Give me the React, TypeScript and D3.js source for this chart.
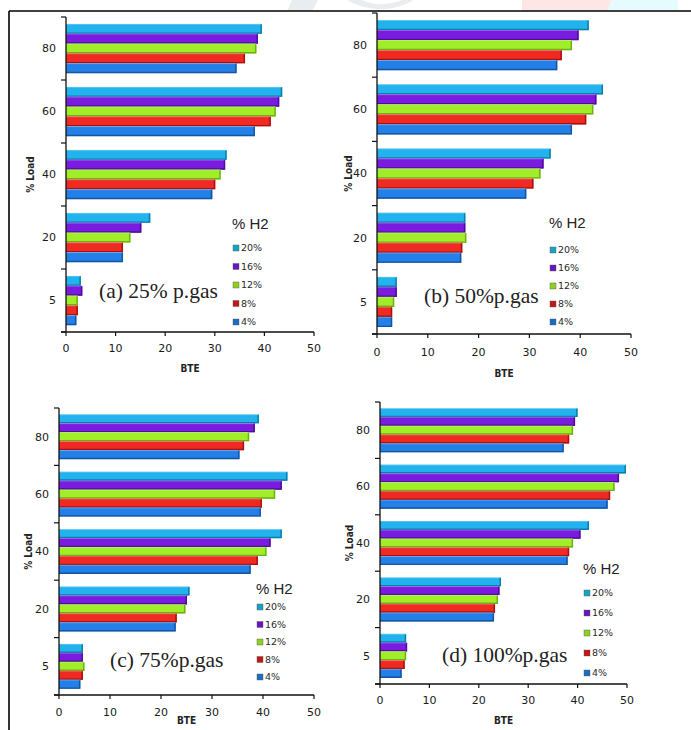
import React from "react";
import * as d3 from "d3";

// Load levels (top to bottom) and hydrogen fractions (top bar to bottom bar in each group)
const loadLevels = ["80", "60", "40", "20", "5"];
const h2Levels = ["20%", "16%", "12%", "8%", "4%"];
const bteTicks = [0, 10, 20, 30, 40, 50];

// BTE values: one row per H2 fraction, columns follow loadLevels
const bte25: number[][] = [
  [39.5, 43.6, 32.4, 17.0, 3.0],
  [38.7, 43.0, 32.1, 15.2, 3.3],
  [38.4, 42.3, 31.2, 13.0, 2.4],
  [36.1, 41.3, 30.1, 11.5, 2.4],
  [34.4, 38.1, 29.5, 11.5, 2.1],
];
const bte50: number[][] = [
  [41.7, 44.5, 34.2, 17.4, 3.9],
  [39.7, 43.2, 32.8, 17.4, 3.9],
  [38.4, 42.6, 32.2, 17.6, 3.4],
  [36.4, 41.2, 30.8, 16.8, 3.0],
  [35.5, 38.4, 29.4, 16.6, 3.0],
];
const bte75: number[][] = [
  [39.2, 44.8, 43.7, 25.6, 4.7],
  [38.4, 43.7, 41.5, 25.1, 4.7],
  [37.3, 42.4, 40.7, 24.8, 5.0],
  [36.3, 39.8, 39.0, 23.1, 4.7],
  [35.4, 39.6, 37.6, 22.9, 4.2],
];
const bte100: number[][] = [
  [40.0, 49.8, 42.3, 24.5, 5.3],
  [39.5, 48.4, 40.6, 24.2, 5.5],
  [39.1, 47.5, 39.1, 23.9, 5.3],
  [38.3, 46.6, 38.3, 23.3, 5.0],
  [37.2, 46.1, 38.0, 23.1, 4.4],
];
const panelTags = ["(a) 25% p.gas", "(b) 50%p.gas", "(c) 75%p.gas", "(d) 100%p.gas"];

const barFill = ["#22b3ef", "#7a1ce0", "#9fee28", "#ee2a22", "#2380e8"];
const barEdge = ["#0b7ea6", "#4c0f96", "#6fae16", "#a81010", "#15559f"];
const keyFill = ["#17a3c4", "#6817bd", "#8fcf1e", "#c21717", "#1a6ec2"];

type Layout = {
  x0: number; x1: number; yTop: number; yBot: number;
  tickY: number; bteY: number; loadX: number;
  legX: number; legTitleY: number; legY0: number; legStep: number;
  tagX: number; tagY: number;
};

const layouts: Layout[] = [
  { x0: 66, x1: 314, yTop: 17, yBot: 332, tickY: 352, bteY: 372, loadX: 30,
    legX: 232, legTitleY: 229, legY0: 248, legStep: 18.5, tagX: 99, tagY: 298 },
  { x0: 377, x1: 631, yTop: 13, yBot: 334, tickY: 356, bteY: 377, loadX: 348,
    legX: 549, legTitleY: 228, legY0: 250, legStep: 18, tagX: 424, tagY: 303 },
  { x0: 59, x1: 314, yTop: 408, yBot: 695, tickY: 716, bteY: 724, loadX: 28,
    legX: 256, legTitleY: 594, legY0: 607, legStep: 17.5, tagX: 110, tagY: 667 },
  { x0: 380, x1: 627, yTop: 402, yBot: 684, tickY: 704, bteY: 724, loadX: 349,
    legX: 583, legTitleY: 574, legY0: 593, legStep: 20, tagX: 442, tagY: 662 },
];

const panelData = [bte25, bte50, bte75, bte100];

const sans = "'DejaVu Sans', Verdana, sans-serif";
const cond = "'DejaVu Sans Condensed', 'DejaVu Sans', sans-serif";

function Panel({ data, layout, tag }: { data: number[][]; layout: Layout; tag: string }) {
  const x = d3.scaleLinear().domain([0, 50]).range([layout.x0, layout.x1]);
  const y = d3.scaleBand<string>().domain(loadLevels).range([layout.yTop, layout.yBot]);
  const bw = y.bandwidth();
  const inner = d3.scaleBand<string>().domain(h2Levels).range([bw * 0.11, bw * 0.89]);
  const bh = inner.bandwidth();
  const boundaries = [...loadLevels.map((l) => y(l)!), layout.yBot];
  const midY = (layout.yTop + layout.yBot) / 2;

  return (
    <g>
      {/* bars */}
      {h2Levels.map((h, si) => (
        <g key={h}>
          {loadLevels.map((l, li) => {
            const v = data[si][li];
            const by = y(l)! + inner(h)!;
            const bx = x(0);
            const w = x(v) - x(0);
            return (
              <g key={l}>
                <rect x={bx} y={by} width={w} height={bh} fill={barFill[si]} />
                <path
                  d={`M${bx},${by + bh - 0.6}H${bx + w - 0.8}V${by + 0.6}`}
                  fill="none"
                  stroke={barEdge[si]}
                  strokeWidth={1.4}
                />
                <line x1={bx} x2={bx + w - 1} y1={by + 0.4} y2={by + 0.4} stroke="#ffffff" strokeOpacity={0.25} />
              </g>
            );
          })}
        </g>
      ))}

      {/* value axis */}
      <line x1={x(0) - 5} x2={x(50)} y1={layout.yBot} y2={layout.yBot} stroke="#111" strokeWidth={1.3} />
      {bteTicks.map((t) => (
        <g key={t}>
          <line x1={x(t)} x2={x(t)} y1={layout.yBot} y2={layout.yBot + 4} stroke="#111" strokeWidth={1.2} />
          <text x={x(t)} y={layout.tickY} textAnchor="middle" fontFamily={sans} fontSize={11} fill="#1a1a1a">
            {t}
          </text>
        </g>
      ))}
      <text x={(layout.x0 + layout.x1) / 2} y={layout.bteY} textAnchor="middle" fontFamily={cond} fontWeight="bold" fontSize={10} fill="#222">
        BTE
      </text>

      {/* category axis */}
      <line x1={x(0)} x2={x(0)} y1={layout.yTop} y2={layout.yBot} stroke="#111" strokeWidth={1.3} />
      {boundaries.map((b, i) => (
        <line key={i} x1={x(0) - 5} x2={x(0)} y1={b} y2={b} stroke="#111" strokeWidth={1.2} />
      ))}
      {loadLevels.map((l) => (
        <text key={l} x={x(0) - 10} y={y(l)! + bw / 2} dy="0.35em" textAnchor="end" fontFamily={sans} fontSize={11} fill="#1a1a1a">
          {l}
        </text>
      ))}
      <text
        transform={`translate(${layout.loadX},${midY}) rotate(-90)`}
        textAnchor="middle"
        dy="0.35em"
        fontFamily={cond}
        fontWeight="bold"
        fontSize={10}
        fill="#222"
      >
        % Load
      </text>

      {/* legend */}
      <text x={layout.legX} y={layout.legTitleY} fontFamily="'Liberation Sans', Arial, sans-serif" fontSize={15} fill="#222">
        % H2
      </text>
      {h2Levels.map((h, si) => {
        const cy = layout.legY0 + si * layout.legStep;
        return (
          <g key={h}>
            <rect x={layout.legX + 1} y={cy - 3} width={6} height={6} fill={keyFill[si]} stroke="#555" strokeWidth={0.4} />
            <text x={layout.legX + 9} y={cy} dy="0.35em" fontFamily={sans} fontSize={9.5} fill="#2a2a2a">
              {h}
            </text>
          </g>
        );
      })}

      {/* panel tag */}
      <text x={layout.tagX} y={layout.tagY} fontFamily="'Liberation Serif', 'Times New Roman', serif" fontSize={21.5} fill="#222">
        {tag}
      </text>
    </g>
  );
}

export default function App() {
  return (
    <svg
      width={691}
      height={730}
      style={{ position: "absolute", left: 0, top: 0, background: "#fff" }}
    >
      {/* faint background marks along the top edge */}
      <g opacity={0.45}>
        <path d="M292,0 L318,0 L312,11 L287,11 Z" fill="#cfd8dc" />
        <path d="M347,0 C372,14 398,10 413,0 L402,0 C390,5 374,6 362,0 Z" fill="#cfd8dc" />
        <path d="M522,0 L612,0 L607,11 L522,11 Z" fill="#fbcaca" />
        <path d="M612,0 L678,0 L678,11 L607,11 Z" fill="#c8f7fb" />
      </g>

      {/* frame */}
      <line x1={9} x2={691} y1={11} y2={11} stroke="#000" strokeWidth={1.6} />
      <line x1={9} x2={9} y1={11} y2={730} stroke="#000" strokeWidth={1.6} />

      {layouts.map((l, i) => (
        <Panel key={i} data={panelData[i]} layout={l} tag={panelTags[i]} />
      ))}
    </svg>
  );
}
